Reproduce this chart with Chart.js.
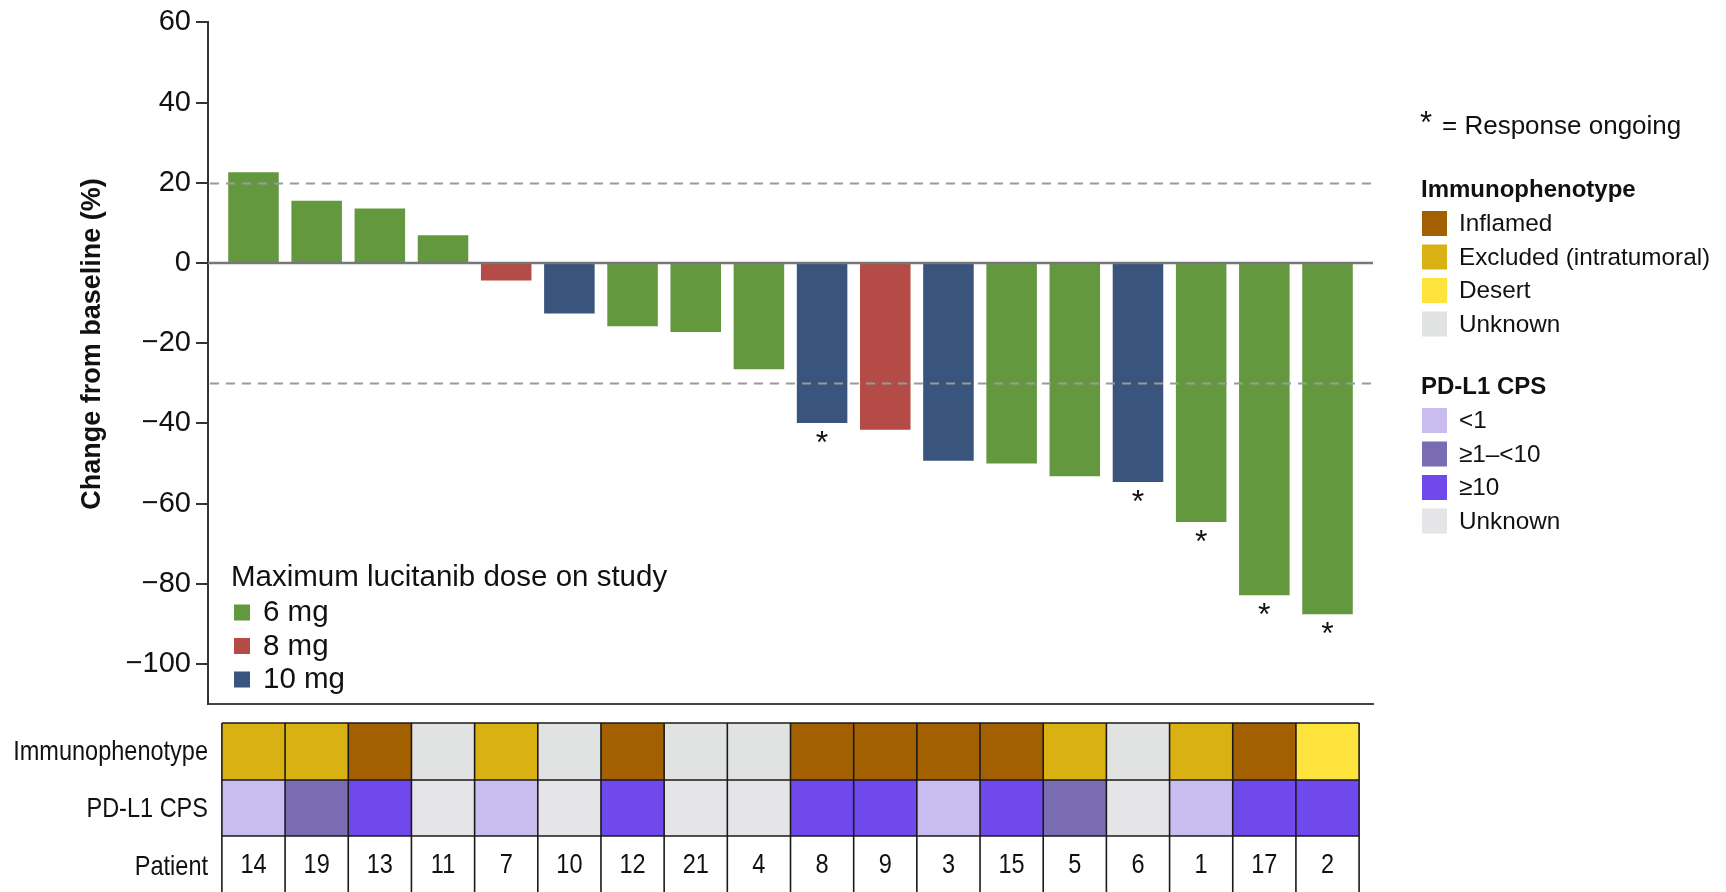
<!DOCTYPE html>
<html>
<head>
<meta charset="utf-8">
<script src="https://cdn.jsdelivr.net/npm/chart.js@4.4.1/dist/chart.umd.min.js"></script>
<style>
  html, body { margin: 0; padding: 0; background: #fff; }
  #wrap { width: 1726px; height: 892px; position: relative; }
  canvas { display: block; }
</style>
</head>
<body>
<div id="wrap"><canvas id="waterfall" width="1726" height="892"></canvas></div>
<script>
// Best change in target lesions per patient, sorted from worst to best
const patients = ['14','19','13','11','7','10','12','21','4','8','9','3','15','5','6','1','17','2'];
const changeFromBaseline = [22.6, 15.5, 13.6, 6.9, -4.4, -12.6, -15.8, -17.2, -26.5, -39.9, -41.6, -49.3, -50.0, -53.2, -54.6, -64.6, -82.9, -87.6];
const maxDose = ['6 mg','6 mg','6 mg','6 mg','8 mg','10 mg','6 mg','6 mg','6 mg','10 mg','8 mg','10 mg','6 mg','6 mg','10 mg','6 mg','6 mg','6 mg'];
const immunophenotype = ['Excluded (intratumoral)','Excluded (intratumoral)','Inflamed','Unknown','Excluded (intratumoral)','Unknown','Inflamed','Unknown','Unknown','Inflamed','Inflamed','Inflamed','Inflamed','Excluded (intratumoral)','Unknown','Excluded (intratumoral)','Inflamed','Desert'];
const pdl1Cps = ['<1','≥1–<10','≥10','Unknown','<1','Unknown','≥10','Unknown','Unknown','≥10','≥10','<1','≥10','≥1–<10','Unknown','<1','≥10','≥10'];
const responseOngoing = ['8','6','1','17','2'];

const yTicks = [60, 40, 20, 0, -20, -40, -60, -80, -100];
const thresholdLines = [20, -30];

const doseLevels = ['6 mg','8 mg','10 mg'];
const doseColors = ['#64983f','#b54b46','#3a557d'];
const immunoLevels = ['Inflamed','Excluded (intratumoral)','Desert','Unknown'];
const immunoColors = ['#a36000','#d9b112','#fde33b','#e1e2e2'];
const cpsLevels = ['<1','≥1–<10','≥10','Unknown'];
const cpsColors = ['#c8bdee','#7a6cb2','#7049ec','#e5e4e6'];

const SANS = '"Liberation Sans", Arial, Helvetica, sans-serif';

const colorOf = (levels, colors, v) => colors[levels.indexOf(v)];

// condensed lettering: regular face squeezed horizontally
function narrowText(ctx, text, x, y, align, size) {
  ctx.save();
  ctx.translate(x, y);
  ctx.scale(0.84, 1);
  ctx.font = size + 'px ' + SANS;
  ctx.textAlign = align;
  ctx.textBaseline = 'middle';
  ctx.fillText(text, 0, 0);
  ctx.restore();
}

// Reference lines, zero line and "response ongoing" asterisks over the bars
const overlayPlugin = {
  id: 'overlay',
  afterDatasetsDraw(chart) {
    const { ctx, chartArea: a, scales: { x, y } } = chart;
    ctx.save();
    ctx.strokeStyle = '#9a9a9a';
    ctx.lineWidth = 2;
    ctx.setLineDash([9, 7]);
    thresholdLines.forEach(v => {
      const py = Math.round(y.getPixelForValue(v)) + 0.5;
      ctx.beginPath(); ctx.moveTo(a.left + 2, py); ctx.lineTo(a.right, py); ctx.stroke();
    });
    ctx.setLineDash([]);
    ctx.strokeStyle = '#777777';
    ctx.lineWidth = 2.5;
    const z = y.getPixelForValue(0);
    ctx.beginPath(); ctx.moveTo(a.left, z); ctx.lineTo(a.right, z); ctx.stroke();

    ctx.fillStyle = '#111';
    ctx.font = '32px ' + SANS;
    ctx.textAlign = 'center';
    ctx.textBaseline = 'alphabetic';
    responseOngoing.forEach(p => {
      const i = patients.indexOf(p);
      const px = x.getPixelForValue(i);
      const py = y.getPixelForValue(changeFromBaseline[i]);
      ctx.fillText('*', px, py + 30);
    });
    ctx.restore();
  }
};

// Axis title, dose legend, annotation table and side legends
const decorPlugin = {
  id: 'decor',
  afterDraw(chart) {
    const { ctx, scales: { x } } = chart;
    ctx.save();

    // y-axis title
    ctx.save();
    ctx.translate(93, 344);
    ctx.rotate(-Math.PI / 2);
    ctx.fillStyle = '#111';
    ctx.font = 'bold 27px ' + SANS;
    ctx.textAlign = 'center';
    ctx.textBaseline = 'middle';
    ctx.fillText('Change from baseline (%)', 0, 0);
    ctx.restore();

    // dose legend inside the plot
    ctx.fillStyle = '#111';
    ctx.font = '29.5px ' + SANS;
    ctx.textAlign = 'left';
    ctx.textBaseline = 'middle';
    ctx.fillText('Maximum lucitanib dose on study', 231, 578);
    doseLevels.forEach((d, k) => {
      const cy = 612 + k * 33.5;
      ctx.fillStyle = doseColors[k];
      ctx.fillRect(234, cy - 7.5, 16, 16);
      ctx.fillStyle = '#111';
      ctx.fillText(d, 263, cy + 1);
    });

    // annotation table
    const rows = [
      { label: 'Immunophenotype', top: 723, h: 57, fill: i => colorOf(immunoLevels, immunoColors, immunophenotype[i]) },
      { label: 'PD-L1 CPS', top: 780, h: 56, fill: i => colorOf(cpsLevels, cpsColors, pdl1Cps[i]) },
      { label: 'Patient', top: 836, h: 60, fill: () => '#ffffff', text: i => patients[i] }
    ];
    rows.forEach(r => {
      patients.forEach((p, i) => {
        const x0 = x.getPixelForValue(i - 0.5);
        const x1 = x.getPixelForValue(i + 0.5);
        ctx.fillStyle = r.fill(i);
        ctx.fillRect(x0, r.top, x1 - x0, r.h);
        if (r.text) {
          ctx.fillStyle = '#111';
          narrowText(ctx, r.text(i), (x0 + x1) / 2, r.top + 29, 'center', 28);
        }
      });
      ctx.fillStyle = '#111';
      narrowText(ctx, r.label, 208, r.top + r.h / 2 + 1, 'right', 28);
    });
    ctx.strokeStyle = '#1a1a1a';
    ctx.lineWidth = 1.6;
    const left = x.getPixelForValue(-0.5), right = x.getPixelForValue(patients.length - 0.5);
    [723, 780, 836, 896].forEach(yy => {
      ctx.beginPath(); ctx.moveTo(left, yy); ctx.lineTo(right, yy); ctx.stroke();
    });
    for (let i = 0; i <= patients.length; i++) {
      const px = x.getPixelForValue(i - 0.5);
      ctx.beginPath(); ctx.moveTo(px, 723); ctx.lineTo(px, 892); ctx.stroke();
    }

    // side legends
    ctx.textAlign = 'left';
    ctx.textBaseline = 'middle';
    ctx.fillStyle = '#111';
    ctx.font = '31px ' + SANS;
    ctx.fillText('*', 1420, 124);
    ctx.font = '26px ' + SANS;
    ctx.fillText('= Response ongoing', 1442, 127);

    const groups = [
      { title: 'Immunophenotype', top: 190, levels: immunoLevels, colors: immunoColors },
      { title: 'PD-L1 CPS', top: 387, levels: cpsLevels, colors: cpsColors }
    ];
    groups.forEach(g => {
      ctx.fillStyle = '#111';
      ctx.font = 'bold 24px ' + SANS;
      ctx.fillText(g.title, 1421, g.top);
      g.levels.forEach((lv, k) => {
        const cy = g.top + 33.5 + k * 33.5;
        ctx.fillStyle = g.colors[k];
        ctx.fillRect(1422, cy - 12.5, 25, 25);
        ctx.fillStyle = '#111';
        ctx.font = '24.3px ' + SANS;
        ctx.fillText(lv, 1459, cy + 1);
      });
    });
    ctx.restore();
  }
};

new Chart(document.getElementById('waterfall'), {
  type: 'bar',
  data: {
    datasets: [{
      data: changeFromBaseline.map((v, i) => ({ x: i, y: v })),
      backgroundColor: maxDose.map(d => colorOf(doseLevels, doseColors, d)),
      borderWidth: 0,
      categoryPercentage: 0.8,
      barPercentage: 1.0
    }]
  },
  options: {
    responsive: false,
    animation: false,
    layout: { padding: { left: 0, top: 20, right: 353, bottom: 188 } },
    plugins: { legend: { display: false }, tooltip: { enabled: false } },
    scales: {
      x: {
        type: 'linear',
        min: -0.72,
        max: 17.72,
        offset: false,
        ticks: { display: false },
        grid: { display: false },
        border: { display: true, color: '#444', width: 2 },
        afterFit(s) { s.height = 0; }
      },
      y: {
        min: -110,
        max: 60,
        afterBuildTicks(s) { s.ticks = yTicks.map(v => ({ value: v })); },
        ticks: {
          font: { family: SANS, size: 29 },
          color: '#111',
          padding: 5,
          callback: v => (v < 0 ? '\u2212' + Math.abs(v) : String(v))
        },
        grid: { drawOnChartArea: false, drawTicks: true, tickLength: 12, color: '#333', lineWidth: 2 },
        border: { color: '#333', width: 2 },
        afterFit(s) { s.width = 208; }
      }
    }
  },
  plugins: [overlayPlugin, decorPlugin]
});
</script>
</body>
</html>
